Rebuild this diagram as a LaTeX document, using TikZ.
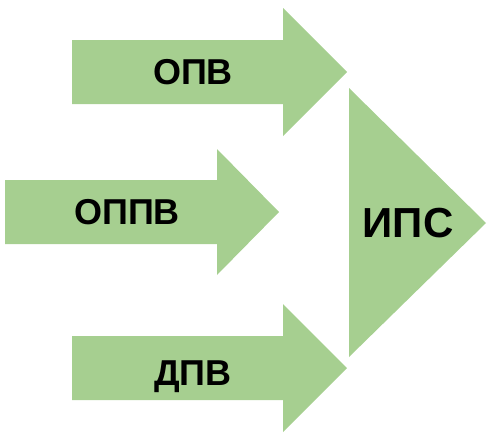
\documentclass[tikz,border=0pt]{standalone}
\usepackage{fontspec}
\setmainfont{Liberation Sans}
\definecolor{chk}{RGB}{166,207,144}
\begin{document}
\begin{tikzpicture}[x=1pt,y=-1pt,
  arrowshape/.style={fill=chk,draw=none},
  lbl/.style={font=\bfseries\fontsize{36}{36}\selectfont,inner sep=0pt,text=black},
  biglbl/.style={font=\bfseries\fontsize{42}{42}\selectfont,inner sep=0pt,text=black}]
\useasboundingbox (0,0) rectangle (487,434);
% arrow 1
\path[arrowshape] (72,40) -- (283,40) -- (283,8) -- (347,72) -- (283,136) -- (283,104) -- (72,104) -- cycle;
% arrow 2
\path[arrowshape] (5,180) -- (217,180) -- (217,149) -- (279,212) -- (217,275) -- (217,244) -- (5,244) -- cycle;
% arrow 3
\path[arrowshape] (72,336) -- (283,336) -- (283,304) -- (347,368) -- (283,432) -- (283,400) -- (72,400) -- cycle;
% triangle
\path[arrowshape] (349,88) -- (486,223) -- (349,357) -- cycle;
\node[lbl] (opv) at (193,72) {ОПВ};
\node[lbl] (oppv) at (127,212) {ОППВ};
\node[lbl,anchor=base] (dpv) at (193,385) {ДПВ};
\node[biglbl] (ips) at (408,223) {ИПС};
\end{tikzpicture}
\end{document}
